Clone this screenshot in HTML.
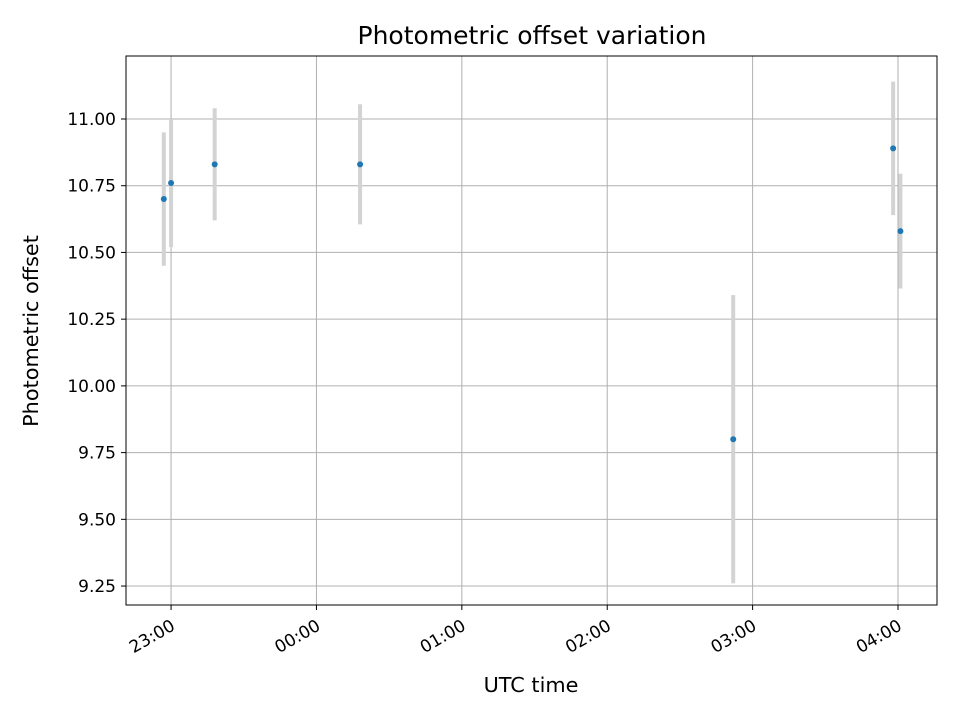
<!DOCTYPE html>
<html><head><meta charset="utf-8"><style>
body{margin:0;background:#fff;font-family:"Liberation Sans","DejaVu Sans",sans-serif;}
svg text{font-family:"DejaVu Sans","Liberation Sans",sans-serif;}
</style></head><body>
<svg id="chart" width="960" height="720" xmlns="http://www.w3.org/2000/svg">
<rect width="960" height="720" fill="#fff"/>
<g id="grid"></g><g id="errs"></g><g id="pts"></g><g id="axes"></g>
<text x="532" y="44" font-size="25" text-anchor="middle">Photometric offset variation</text>
<text x="531" y="692" font-size="20.8" text-anchor="middle">UTC time</text>
<text transform="translate(38,331) rotate(-90)" font-size="20.8" text-anchor="middle">Photometric offset</text>
</svg>
<script>
// times in minutes after 22:00
const times=[57,60,78,138,292,358,361];
const offsets=[10.70,10.76,10.83,10.83,9.80,10.89,10.58];
const errors=[0.25,0.24,0.21,0.225,0.54,0.25,0.215];
const yTicks=[9.25,9.5,9.75,10.0,10.25,10.5,10.75,11.0];
const xTickMin=[60,120,180,240,300,360];
const xTickLabels=["23:00","00:00","01:00","02:00","03:00","04:00"];
const L=126,R=937,T=56,B=605;
const x0=41.4,x1=376.1,y0=9.179,y1=11.236;
const sx=v=>L+(v-x0)/(x1-x0)*(R-L);
const sy=v=>B-(v-y0)/(y1-y0)*(B-T);
const NS="http://www.w3.org/2000/svg";
function mk(tag,attrs,parent){const e=document.createElementNS(NS,tag);for(const k in attrs)e.setAttribute(k,attrs[k]);document.getElementById(parent).appendChild(e);return e;}
yTicks.forEach(v=>{const y=sy(v);
 let g=mk('line',{x1:L,x2:R,y1:y,y2:y,stroke:'#b0b0b0','stroke-width':1},'grid');
 
 
 let t=mk('line',{x1:L-5,x2:L,y1:y,y2:y,stroke:'#000'},'axes');
 
 
 let l=mk('text',{x:L-10,y:y+6,'font-size':17,'text-anchor':'end'},'axes');
 l.textContent=v.toFixed(2);
 
 
});
xTickMin.forEach((m,i)=>{const x=sx(m);
 let g=mk('line',{x1:x,x2:x,y1:T,y2:B,stroke:'#b0b0b0','stroke-width':1},'grid');
 
 
 let t=mk('line',{x1:x,x2:x,y1:B,y2:B+5,stroke:'#000'},'axes');
 
 
 const ax=x+5, ay=B+24;
 let l=mk('text',{x:ax,y:ay,'font-size':17,'text-anchor':'end',transform:`rotate(-30 ${ax} ${ay})`},'axes');
 l.textContent=xTickLabels[i];
 
 
});
times.forEach((m,i)=>{const x=sx(m);
 let e=mk('line',{x1:x,x2:x,y1:sy(offsets[i]+errors[i]),y2:sy(offsets[i]-errors[i]),stroke:'#d3d3d3','stroke-width':4},'errs');
 
 
 let c=mk('circle',{cx:x,cy:sy(offsets[i]),r:3,fill:'#1f77b4'},'pts');
 
 
});
let f=mk('rect',{x:L,y:T,width:R-L,height:B-T,fill:'none',stroke:'#000','stroke-width':1},'axes');


</script>
</body></html>
